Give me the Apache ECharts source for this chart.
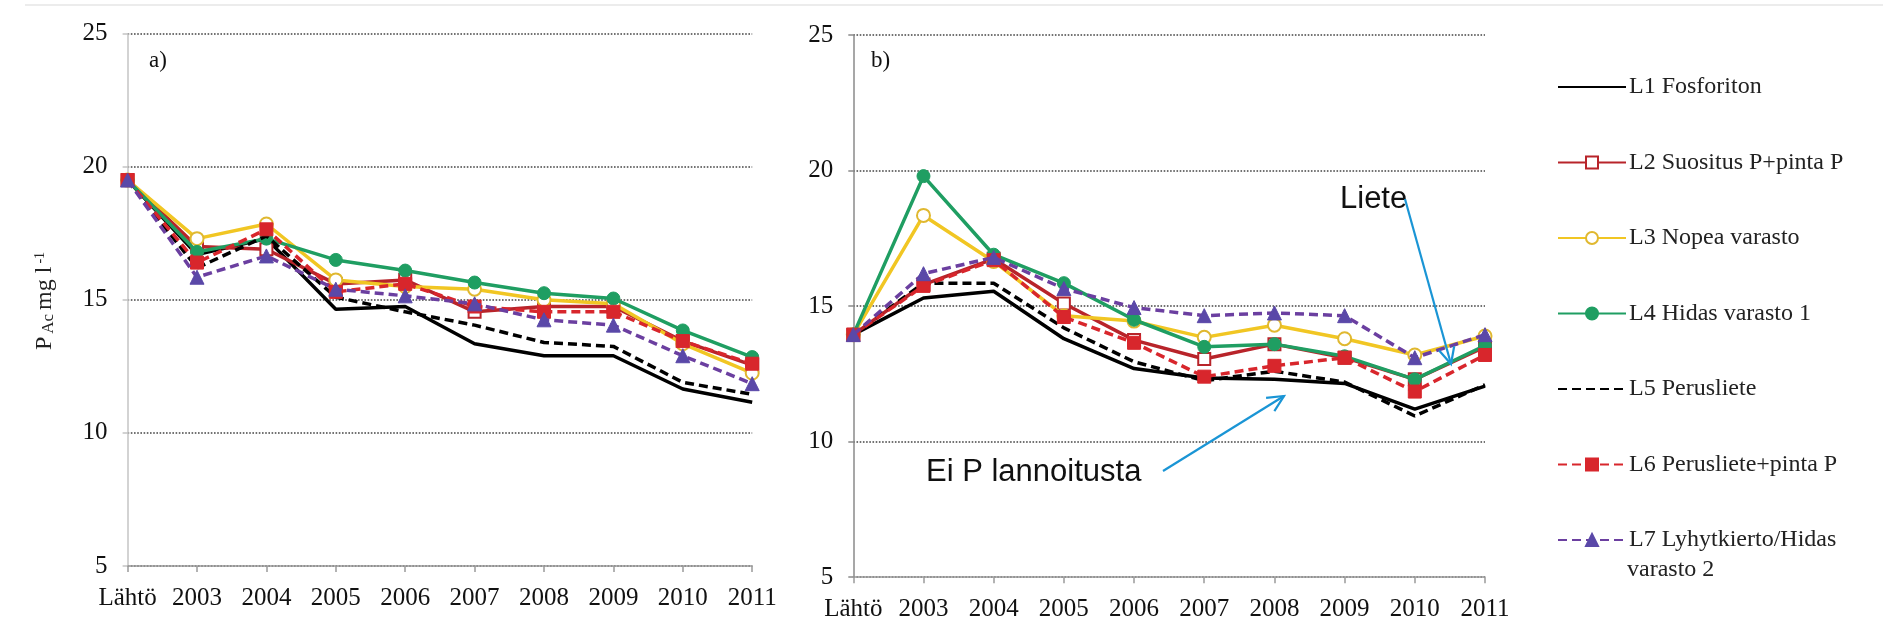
<!DOCTYPE html>
<html>
<head>
<meta charset="utf-8">
<script src="https://cdn.jsdelivr.net/npm/echarts@6/dist/echarts.min.js"></script>
<style>
html,body{margin:0;padding:0;background:#fff;}
#chart{width:1883px;height:638px;}
</style>
</head>
<body>
<div id="chart"></div>
<script>
// ---- data ----
const categories = ['Lähtö','2003','2004','2005','2006','2007','2008','2009','2010','2011'];
const yTicks = { min: 5, max: 25, interval: 5 };
const seriesNames = ['L1 Fosforiton','L2 Suositus P+pinta P','L3 Nopea varasto','L4 Hidas varasto 1','L5 Perusliete','L6 Perusliete+pinta P','L7 Lyhytkierto/Hidas'];

// panel a)
const a_L1 = [19.5, 16.7, 17.3, 14.65, 14.75, 13.35, 12.9, 12.9, 11.65, 11.15];
const a_L2 = [19.5, 17.0, 16.9, 15.6, 15.75, 14.55, 14.75, 14.75, 13.45, 12.55];
const a_L3 = [19.5, 17.3, 17.85, 15.75, 15.5, 15.4, 15.0, 14.85, 13.35, 12.25];
const a_L4 = [19.5, 16.8, 17.3, 16.5, 16.1, 15.65, 15.25, 15.05, 13.85, 12.85];
const a_L5 = [19.5, 16.2, 17.4, 15.1, 14.55, 14.05, 13.4, 13.25, 11.9, 11.45];
const a_L6 = [19.5, 16.4, 17.65, 15.3, 15.6, 14.75, 14.55, 14.55, 13.45, 12.6];
const a_L7 = [19.5, 15.85, 16.65, 15.4, 15.15, 14.85, 14.25, 14.05, 12.9, 11.85];

// panel b)
const b_L1 = [13.95, 15.3, 15.55, 13.8, 12.7, 12.35, 12.3, 12.15, 11.2, 12.05];
const b_L2 = [13.95, 15.8, 16.75, 15.1, 13.75, 13.05, 13.6, 13.1, 12.3, 13.5];
const b_L3 = [13.95, 18.35, 16.65, 14.65, 14.45, 13.85, 14.3, 13.8, 13.2, 13.9];
const b_L4 = [13.95, 19.8, 16.9, 15.85, 14.5, 13.5, 13.6, 13.15, 12.3, 13.55];
const b_L5 = [13.95, 15.85, 15.85, 14.2, 12.95, 12.25, 12.6, 12.2, 10.95, 12.1];
const b_L6 = [13.95, 15.75, 16.7, 14.6, 13.65, 12.4, 12.8, 13.1, 11.85, 13.2];
const b_L7 = [13.95, 16.2, 16.8, 15.65, 14.95, 14.65, 14.75, 14.65, 13.1, 13.95];

const panelA = [a_L1, a_L2, a_L3, a_L4, a_L5, a_L6, a_L7];
const panelB = [b_L1, b_L2, b_L3, b_L4, b_L5, b_L6, b_L7];

// ---- styles ----
const styles = [
  {color:'#000000', type:'solid',  symbol:'none'},
  {color:'#b8242a', type:'solid',  symbol:'emptyRect',   symbolSize:12, mcolor:'#b8242a'},
  {color:'#f1c623', type:'solid',  symbol:'emptyCircle', symbolSize:13, mcolor:'#e0b830'},
  {color:'#1f9e62', type:'solid',  symbol:'circle',      symbolSize:13, mcolor:'#1f9e62'},
  {color:'#000000', type:[9,5],    symbol:'none'},
  {color:'#d8262c', type:[9,5],    symbol:'rect',        symbolSize:13, mcolor:'#d8262c'},
  {color:'#6b3fa0', type:[9,5],    symbol:'triangle',    symbolSize:14, mcolor:'#5a48a8'}
];

const serif = 'Liberation Serif, Times New Roman, serif';
const sans = 'Liberation Sans, Arial, sans-serif';

function makeSeries(gridIdx, dataArr){
  return dataArr.map((d, i) => {
    const s = styles[i];
    return {
      name: seriesNames[i],
      type: 'line',
      xAxisIndex: gridIdx,
      yAxisIndex: gridIdx,
      data: d,
      symbol: s.symbol,
      symbolSize: s.symbolSize || 0,
      showSymbol: s.symbol !== 'none',
      lineStyle: {color: s.color, width: 3.5, type: s.type},
      itemStyle: {color: s.mcolor || s.color, borderColor: s.mcolor || s.color, borderWidth: s.symbol.startsWith('empty') ? 1.8 : 1},
      color: s.color,
      emphasis: {disabled: true},
      z: 2 + i
    };
  });
}

function xAxis(gi, margin){
  return {
    gridIndex: gi, type: 'category', data: categories, boundaryGap: false,
    axisLine: {show: true, lineStyle: {color: '#9a9a9a', width: 1.5}},
    axisTick: {show: true, length: 6, lineStyle: {color: '#9a9a9a', width: 1.5}},
    axisLabel: {fontFamily: serif, fontSize: 25, color: '#111', margin: margin, interval: 0}
  };
}
function yAxis(gi, col){
  return {
    gridIndex: gi, type: 'value', min: yTicks.min, max: yTicks.max, interval: yTicks.interval,
    axisLine: {show: true, lineStyle: {color: col, width: 1.5}},
    axisTick: {show: true, length: 5, lineStyle: {color: col, width: 1.5}},
    splitLine: {show: true, lineStyle: {type: 'dotted', color: '#444', width: 1.6}},
    axisLabel: {fontFamily: serif, fontSize: 25, color: '#111', margin: 20}
  };
}

function arrow(x1, y1, x2, y2, col){
  const ang = Math.atan2(y2 - y1, x2 - x1);
  const L = 18, spread = 0.45;
  const h1 = [x2 - L*Math.cos(ang - spread), y2 - L*Math.sin(ang - spread)];
  const h2 = [x2 - L*Math.cos(ang + spread), y2 - L*Math.sin(ang + spread)];
  return [
    {type:'line', shape:{x1:x1,y1:y1,x2:x2,y2:y2}, style:{stroke:col, lineWidth:2.2}, z:50},
    {type:'polyline', shape:{points:[h1,[x2,y2],h2]}, style:{stroke:col, lineWidth:2.2, fill:null}, z:50}
  ];
}

const blue = '#1a95d5';

const legendData = seriesNames.map((n, i) => styles[i].symbol === 'none'
  ? {name: n, itemStyle: {opacity: 0}}
  : {name: n});

const chart = echarts.init(document.getElementById('chart'), null, {renderer:'canvas'});
const option = {
  animation: false,
  backgroundColor: '#ffffff',
  grid: [
    {left: 127.6, top: 33.7, width: 624.6, height: 532.3, containLabel: false},
    {left: 853.3, top: 35.2, width: 631.7, height: 542, containLabel: false}
  ],
  xAxis: [xAxis(0, 20), xAxis(1, 20)],
  yAxis: [yAxis(0, '#c4c4c4'), yAxis(1, '#8a8a8a')],
  legend: {
    orient: 'vertical', left: 1552, top: 70,
    itemWidth: 68, itemHeight: 15, itemGap: 51.5,
    data: legendData,
    textStyle: {fontFamily: serif, fontSize: 24, color: '#222', lineHeight: 24, padding: [0,0,0,-2]},
    selectedMode: false
  },
  series: makeSeries(0, panelA).concat(makeSeries(1, panelB)),
  graphic: [
    {type:'text', left: 1627, top: 558, style:{text:'varasto 2', font:'24px ' + serif, fill:'#222'}},
    {type:'text', x: 149, y: 61, style:{text:'a)', font:'23px ' + serif, fill:'#111', verticalAlign:'middle'}},
    {type:'text', x: 871, y: 61, style:{text:'b)', font:'23px ' + serif, fill:'#111', verticalAlign:'middle'}},
    {type:'text', x: 45, y: 302, rotation: Math.PI/2,
      style:{
        text:'{p|P}{s|Ac}{p|mg l}{u|-1}',
        align:'center', verticalAlign:'middle',
        rich:{
          p:{fontFamily: serif, fontSize: 24, fill:'#222', padding:[0,2,0,2]},
          s:{fontFamily: serif, fontSize: 17, fill:'#222', verticalAlign:'bottom', padding:[0,2,0,1]},
          u:{fontFamily: serif, fontSize: 14, fill:'#222', verticalAlign:'top', padding:[0,0,0,1]}
        }
      }},
    {type:'text', x: 1340, y: 199, style:{text:'Liete', font:'31px ' + sans, fill:'#111', verticalAlign:'middle'}},
    {type:'text', x: 926, y: 472, style:{text:'Ei P lannoitusta', font:'31px ' + sans, fill:'#111', verticalAlign:'middle'}},
    ...arrow(1405, 199, 1451, 364, blue),
    ...arrow(1163, 471, 1284, 396, blue),
    {type:'line', shape:{x1:25,y1:5,x2:1883,y2:5}, style:{stroke:'#e6e6e6', lineWidth:1.5}, z:0}
  ]
};
chart.setOption(option);
</script>
</body>
</html>
